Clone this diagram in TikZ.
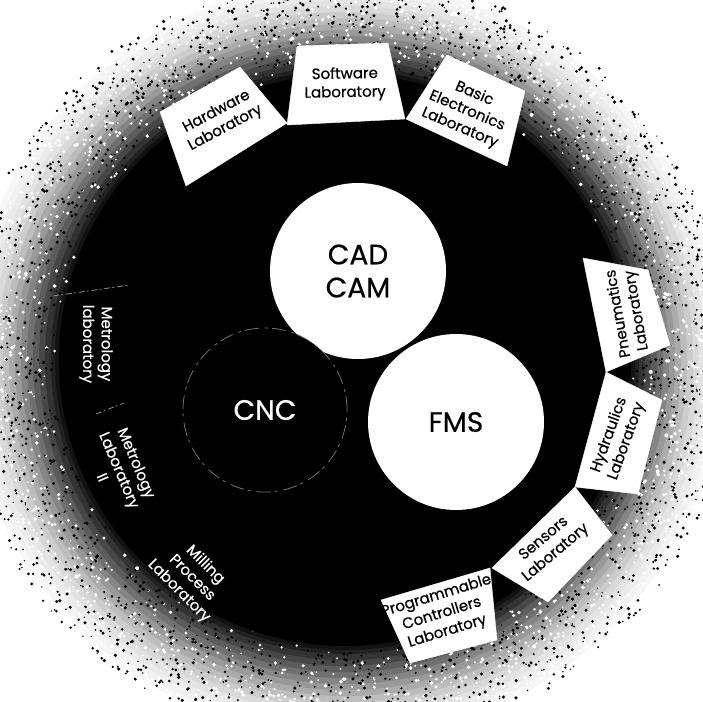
\documentclass[tikz,border=0pt]{standalone}
\usepackage{fontspec}
\setmainfont{Poppins}[FakeBold=0.6]
\usetikzlibrary{positioning}

\begin{document}
\begin{tikzpicture}[
  x=1pt, y=-1pt,
  lab/.style={font=\fontsize{15}{18.5}\selectfont, align=center, inner sep=0pt},
  darklab/.style={lab, text=white},
  panel/.style={fill=white, draw=white, line join=round},
  hub/.style={circle, fill=white, minimum size=176pt, inner sep=0pt, align=center, font=\fontsize{28}{33}\selectfont},
  seam/.style={draw=black!45, line width=0.8pt, dash pattern=on 6pt off 2pt on 2pt off 3pt}
]
\useasboundingbox[fill=white] (0,0) rectangle (703,701);

% Halo
\foreach \r/\g in {378/3, 372/5, 366/8, 360/11, 354/15, 348/20, 342/26, 336/33, 330/40, 324/48,
                   318/56, 312/64, 306/72, 300/80, 294/87, 290/93}
  \fill[black!\g] (345,360) circle[radius=\r];
\pgfmathsetseed{42}
\foreach \i in {1,...,2600} {
  \pgfmathsetmacro{\sa}{360*rnd}
  \pgfmathsetmacro{\sr}{282+100*sqrt(rnd)}
  \pgfmathsetmacro{\sd}{0.8+1.2*rnd}
  \fill[white, shift={(345,360)}] (\sa:\sr) circle[radius=\sd];
}
\foreach \i in {1,...,2600} {
  \pgfmathsetmacro{\sa}{360*rnd}
  \pgfmathsetmacro{\sr}{292+95*rnd}
  \pgfmathsetmacro{\sd}{0.7+1.1*rnd}
  \fill[black, shift={(345,360)}] (\sa:\sr) circle[radius=\sd];
}
\fill[black] (345,360) circle[radius=286];

% Panels
\filldraw[panel] (160,112) -- (240,67) -- (287,123) -- (186,186) -- cycle;
\filldraw[panel] (297,46) -- (388,43) -- (405,119) -- (287,125) -- cycle;
\filldraw[panel] (406,119) -- (447,55) -- (525,91) -- (507,166) -- cycle;
\filldraw[panel] (583,258) -- (648,270) -- (670,345) -- (606,372) -- cycle;
\filldraw[panel] (606,372) -- (662,400) -- (638,494) -- (575,487) -- cycle;
\filldraw[panel] (575,487) -- (612,535) -- (548,602) -- (492,568) -- cycle;
\filldraw[panel] (381,600) -- (490,568) -- (497,640) -- (410,663) -- cycle;
\draw[seam] (53,296) -- (130,285);
\draw[seam] (96,414) -- (124,403);

% Nodes
\node[hub] (cadcam) at (358,271) {CAD\\CAM};
\node[hub] (fms) at (456,422) {FMS};
\node[hub, fill=black, text=white, minimum size=164pt, draw=black!55, line width=0.8pt,
  dash pattern=on 14pt off 4pt on 3pt off 6pt] (cnc) at (265,410) {CNC};

\node[lab, rotate=28] (hw) at (221,120) {Hardware\\Laboratory};
\node[lab, rotate=1] (sw) at (345,84) {Software\\Laboratory};
\node[lab, rotate=-23] (be) at (467,111) {Basic\\Electronics\\Laboratory};
\node[lab, rotate=100] (pn) at (628,312) {Pneumatics\\Laboratory};
\node[lab, rotate=70] (hy) at (618,438) {Hydraulics\\Laboratory};
\node[lab, rotate=40] (se) at (550,546) {Sensors\\Laboratory};
\node[lab, rotate=17] (pc) at (442,614) {Programmable\\Controllers\\Laboratory};
\node[darklab, rotate=-90] (me1) at (96,344) {Metrology\\laboratory};
\node[darklab, rotate=-67] (me2) at (120,470) {Metrology\\Laboratory\\II};
\node[darklab, rotate=-45] (mi) at (192,578) {Milling\\Process\\Laboratory};
\end{tikzpicture}
\end{document}
